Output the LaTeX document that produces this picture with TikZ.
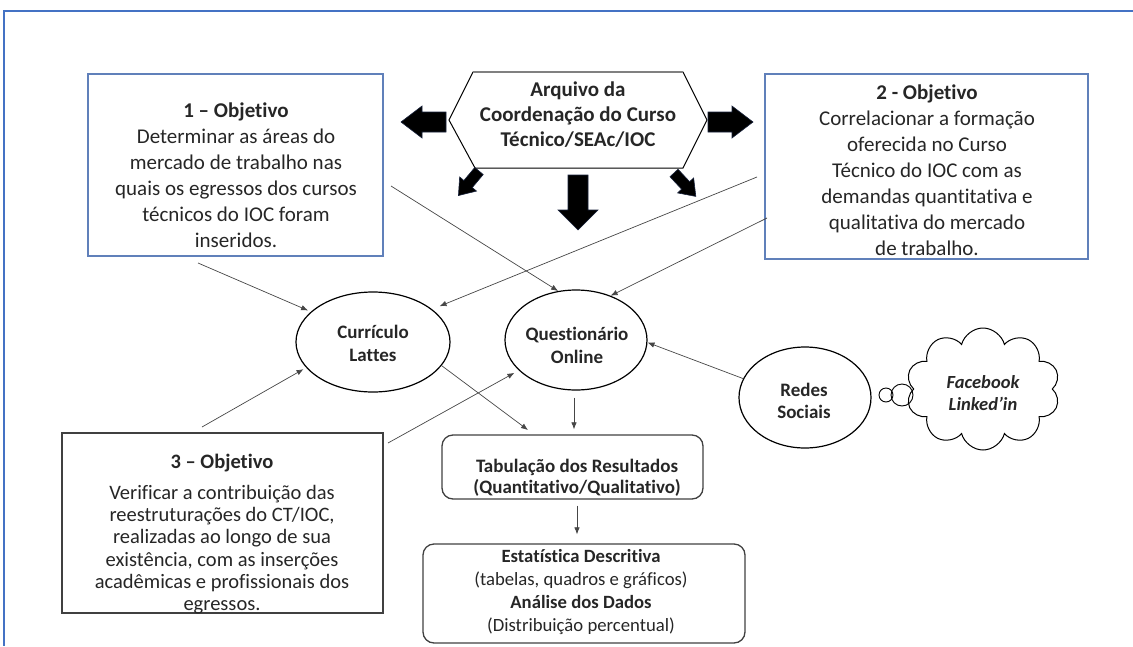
\documentclass[tikz,border=0pt]{standalone}
\usepackage{fontspec}
\setmainfont{Carlito}[Ligatures=NoCommon]
\usetikzlibrary{shapes.geometric,shapes.symbols,arrows.meta,calc}
\definecolor{framecol}{RGB}{68,114,196}
\definecolor{boxblue}{RGB}{96,128,186}
\definecolor{boxgray}{RGB}{64,64,64}
\definecolor{txtcol}{RGB}{38,38,38}
\definecolor{arrgray}{RGB}{70,70,70}
\definecolor{blkedge}{RGB}{25,35,60}
\newcommand\blkarr[6]{%
  \begin{scope}[shift={#1}, rotate=#2]
    \filldraw[fill=black, draw=blkedge, line width=0.6]
      (0,-#5) -- ({#3-#4},-#5) -- ({#3-#4},-#6) -- (#3,0) -- ({#3-#4},#6) -- ({#3-#4},#5) -- (0,#5) -- cycle;
  \end{scope}}
\tikzset{
  txt/.style={text=txtcol, align=center, inner sep=0pt},
  bluebox/.style={draw=boxblue, line width=1.3, inner sep=0pt},
  graybox/.style={draw=boxgray, line width=1.5, inner sep=0pt},
  rbox/.style={draw=boxgray, line width=1.3, rounded corners=11pt, inner sep=0pt},
  ell/.style={ellipse, draw=black, line width=1.2, inner sep=0pt},
  conn/.style={draw=arrgray, line width=0.7, -{Latex[length=7pt,width=5.5pt]}},
}
\begin{document}
\begin{tikzpicture}[x=1pt,y=-1pt]
\useasboundingbox (0,0) rectangle (1133,646);
\draw[framecol, line width=1.6] (1133,11) -- (4,11) -- (4,646);

% objective boxes
\node[bluebox, minimum width=295, minimum height=182] (box1) at (235.5,165) {};
\node[txt, font=\fontsize{21}{26}\selectfont] (t1) at (236,175)
  {\textbf{1 – Objetivo}\\Determinar as áreas do\\mercado de trabalho nas\\quais os egressos dos cursos\\técnicos do IOC foram\\inseridos.};
\node[bluebox, minimum width=323, minimum height=185] (box2) at (926.5,166.5) {};
\node[txt, font=\fontsize{21}{26}\selectfont] (t2) at (927,170.5)
  {\textbf{2 - Objetivo}\\Correlacionar a formação\\oferecida no Curso\\Técnico do IOC com as\\demandas quantitativa e\\qualitativa do mercado\\de trabalho.};
\node[graybox, minimum width=321, minimum height=180] (box3) at (222.5,523) {};
\node[txt, font=\fontsize{20.5}{22.3}\selectfont] (t3) at (222,534)
  {\textbf{3 – Objetivo}\\[9pt]Verificar a contribuição das\\reestruturações do CT/IOC,\\realizadas ao longo de sua\\existência, com as inserções\\acadêmicas e profissionais dos\\egressos.};

% hexagon
\draw[black, line width=1] (473,72) -- (683,72) -- (707,120) -- (683,168) -- (475,168) -- (449,120) -- cycle;
\draw[gray, line width=1.8] (473,72) -- (683,72);
\node[txt, font=\bfseries\fontsize{21}{25}\selectfont] (hex) at (578,115)
  {Arquivo da\\Coordenação do Curso\\Técnico/SEAc/IOC};

% block arrows
\blkarr{(446,122)}{180}{45}{21}{10}{16}
\blkarr{(708,122)}{0}{45}{21}{10}{16}
\blkarr{(578,175)}{-90}{55}{20}{10}{20}
\blkarr{(479,171)}{230}{32}{15}{5.5}{11}
\blkarr{(674,173)}{-47}{32}{15}{5.5}{11}

% ellipses
\node[ell, minimum width=154, minimum height=100] (cl) at (373,342) {};
\node[txt, font=\bfseries\fontsize{19}{23}\selectfont] (clt) at (373,343.5) {Currículo\\Lattes};
\node[ell, minimum width=142, minimum height=100] (qo) at (576,340) {};
\node[txt, font=\bfseries\fontsize{19}{23}\selectfont] (qot) at (577,345) {Questionário\\Online};
\node[ell, minimum width=132, minimum height=101] (rs) at (805,397.5) {};
\node[txt, font=\bfseries\fontsize{19}{22}\selectfont] (rst) at (804,401) {Redes\\Sociais};

% cloud and bubbles
\node[cloud, draw=black, line width=1, cloud puffs=10, aspect=1.3, minimum width=154, minimum height=122] (cloud) at (983,389) {};
\node[txt, font=\bfseries\itshape\fontsize{18.5}{22}\selectfont] (cloudt) at (983,393) {Facebook\\Linked’in};
\node[circle, draw=black, line width=0.9, minimum size=22, inner sep=0pt] (bub1) at (902,395) {};
\node[circle, draw=black, line width=0.9, minimum size=14, inner sep=0pt] (bub2) at (886,395) {};

% result boxes
\node[rbox, minimum width=261, minimum height=64] (tab) at (572.5,467) {};
\node[txt, font=\bfseries\fontsize{19}{21}\selectfont] (tabt) at (577,477.5)
  {Tabulação dos Resultados\\(Quantitativo/Qualitativo)};
\node[rbox, minimum width=322, minimum height=99] (est) at (584,593.5) {};
\node[txt, font=\fontsize{18.7}{23}\selectfont] (estt) at (581,592.5)
  {\textbf{Estatística Descritiva}\\(tabelas, quadros e gráficos)\\\textbf{Análise dos Dados}\\(Distribuição percentual)};

% connectors
\coordinate (s1) at (198,263);
\coordinate (s2) at (391,186);
\coordinate (s3) at (757,177);
\coordinate (s4) at (767,218);
\coordinate (s6) at (202,427);
\coordinate (s7) at (388,443);
\coordinate (e8) at (528,430);
\draw[conn, shorten >=3pt] (s1) -- (cl.154);
\draw[conn] (s2) -- (qo.110);
\draw[conn, shorten >=8pt] (s3) -- (cl.29);
\draw[conn] (s4) -- (qo.52);
\draw[conn] (rs.163) -- (qo.-2);
\draw[conn, shorten >=3pt] (s6) -- (cl.201);
\draw[conn, shorten >=5pt] (s7) -- (qo.208);
\draw[conn] (cl.-19) -- (e8);
\draw[conn, shorten <=7pt, shorten >=5pt] ([xshift=-2pt]qo.south) -- ([xshift=-2pt]qo.south |- tab.north);
\draw[conn, shorten <=6pt, shorten >=9pt] ([xshift=4.5pt]tab.south) -- ([xshift=4.5pt]tab.south |- est.north);
\end{tikzpicture}
\end{document}
